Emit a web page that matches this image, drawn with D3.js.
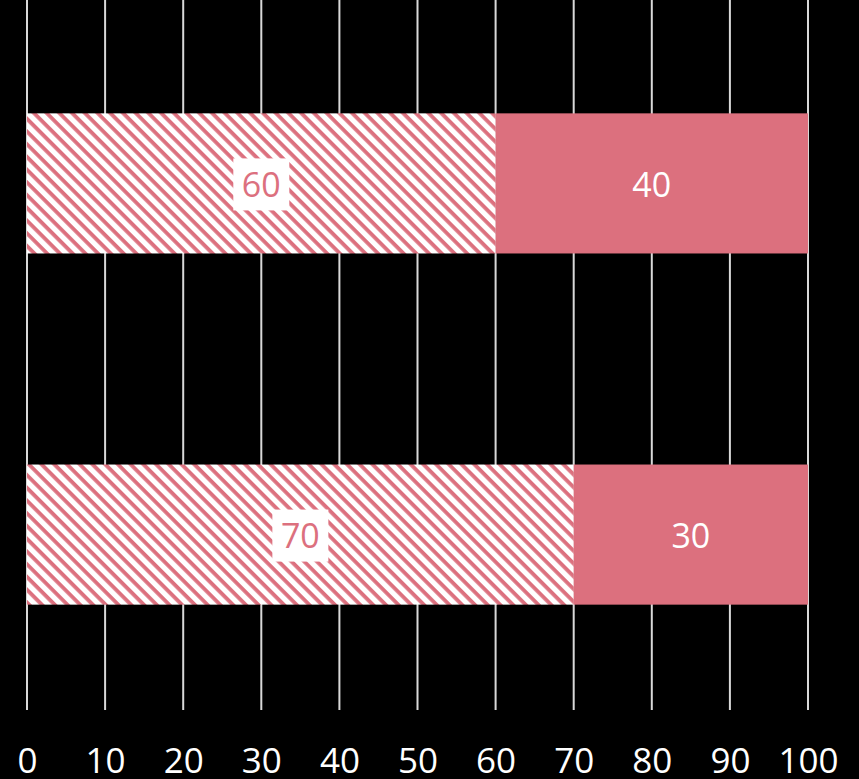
<!DOCTYPE html>
<html>
<head>
<meta charset="utf-8">
<script src="https://cdn.jsdelivr.net/npm/d3@7"></script>
<style>
  html, body { margin: 0; padding: 0; background: #000; }
  svg { display: block; }
</style>
</head>
<body>
<svg id="chart" width="859" height="779"></svg>
<script>
const categories = ["A", "B"];
const hatchedValues = [60, 70];
const solidValues = [40, 30];
const tickValues = [0, 10, 20, 30, 40, 50, 60, 70, 80, 90, 100];

const width = 859, height = 779;
const pink = "#dc707e";
const svg = d3.select("#chart");
svg.append("rect").attr("width", width).attr("height", height).attr("fill", "#000");

const x = d3.scaleLinear().domain([0, 100]).range([27, 808]);
const y = d3.scaleBand().domain(categories).range([8, 710]).paddingInner(0.601).paddingOuter(0.3);

const defs = svg.append("defs");
const pat = defs.append("pattern")
  .attr("id", "hatch")
  .attr("patternUnits", "userSpaceOnUse")
  .attr("width", 9).attr("height", 9)
  .attr("patternTransform", "rotate(45)");
pat.append("rect").attr("width", 9).attr("height", 9).attr("fill", "#fff");
pat.append("rect").attr("x", 0).attr("y", 0).attr("width", 9).attr("height", 3.8).attr("fill", pink);

// gridlines
svg.append("g").selectAll("line").data(tickValues).join("line")
  .attr("x1", d => x(d)).attr("x2", d => x(d))
  .attr("y1", 0).attr("y2", 710)
  .attr("stroke", "#d9d9d9").attr("stroke-width", 2);

// bars
const rows = categories.map((c, i) => ({ c, h: hatchedValues[i], s: solidValues[i] }));
const g = svg.append("g");
g.selectAll("rect.h").data(rows).join("rect").attr("class", "h")
  .attr("x", x(0)).attr("y", d => y(d.c))
  .attr("width", d => x(d.h) - x(0)).attr("height", y.bandwidth())
  .attr("fill", "url(#hatch)");
g.selectAll("rect.s").data(rows).join("rect").attr("class", "s")
  .attr("x", d => x(d.h)).attr("y", d => y(d.c))
  .attr("width", d => x(d.h + d.s) - x(d.h)).attr("height", y.bandwidth())
  .attr("fill", pink);

const font = "'Open Sans', 'Noto Sans', sans-serif";
// hatched labels with white box
rows.forEach(d => {
  const cx = (x(0) + x(d.h)) / 2;
  const cy = y(d.c) + y.bandwidth() / 2 + 1;
  g.append("rect").attr("x", cx - 28).attr("y", cy - 26).attr("width", 56).attr("height", 52).attr("fill", "#fff");
  g.append("text").attr("x", cx).attr("y", cy).attr("dy", "0.36em")
    .attr("text-anchor", "middle").attr("font-family", font).attr("font-size", 34)
    .attr("fill", pink).text(d.h);
  const sx = (x(d.h) + x(d.h + d.s)) / 2;
  g.append("text").attr("x", sx).attr("y", cy).attr("dy", "0.36em")
    .attr("text-anchor", "middle").attr("font-family", font).attr("font-size", 34)
    .attr("fill", "#fff").text(d.s);
});

// x axis labels
const axis = d3.axisBottom(x).tickValues(tickValues).tickSize(0).tickPadding(0);
const ag = svg.append("g").attr("transform", "translate(0,748)").call(axis);
ag.select(".domain").remove();
ag.selectAll("text").attr("font-family", font).attr("font-size", 35).attr("fill", "#fff").attr("dy", "0.71em");
</script>
</body>
</html>
